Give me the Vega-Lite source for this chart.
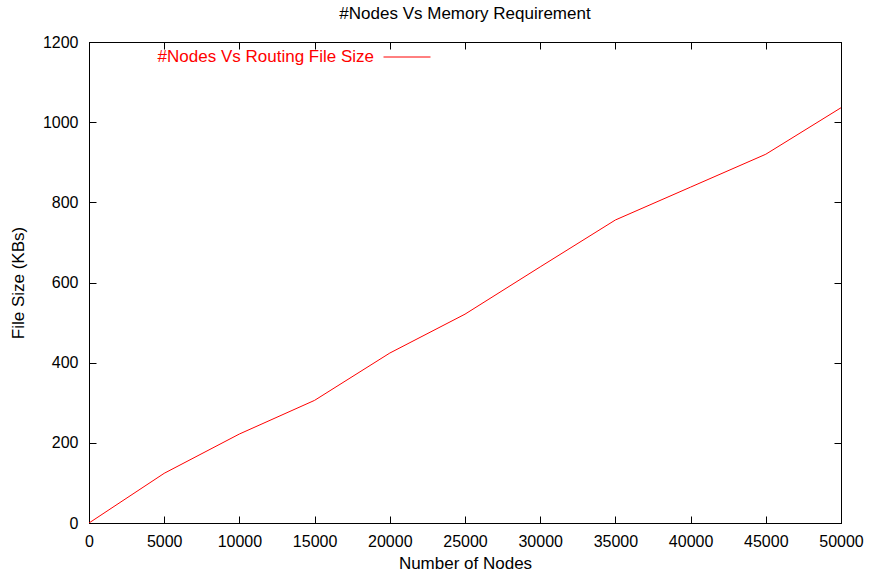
{
  "$schema": "https://vega.github.io/schema/vega-lite/v6.json",
  "width": 752,
  "height": 481,
  "autosize": {"type": "none"},
  "padding": {"left": 89, "top": 42, "right": 30, "bottom": 53},
  "background": "white",
  "config": {
    "font": "Liberation Sans",
    "view": {"stroke": "black", "strokeWidth": 1},
    "axis": {
      "domainColor": "black",
      "tickColor": "black",
      "labelColor": "black",
      "titleColor": "black",
      "labelFontSize": 16,
      "titleFontSize": 17,
      "titleFontWeight": "normal",
      "grid": false,
      "tickSize": -7,
      "tickWidth": 1,
      "domainWidth": 1
    }
  },
  "title": {
    "text": "#Nodes Vs Memory Requirement",
    "fontSize": 17,
    "fontWeight": "normal",
    "color": "black",
    "font": "Liberation Sans",
    "offset": 10
  },
  "data": {
    "values": [
      {"nodes": 0, "size": 0, "series": "#Nodes Vs Routing File Size"},
      {"nodes": 5000, "size": 124, "series": "#Nodes Vs Routing File Size"},
      {"nodes": 10000, "size": 222, "series": "#Nodes Vs Routing File Size"},
      {"nodes": 15000, "size": 306, "series": "#Nodes Vs Routing File Size"},
      {"nodes": 20000, "size": 424, "series": "#Nodes Vs Routing File Size"},
      {"nodes": 25000, "size": 521, "series": "#Nodes Vs Routing File Size"},
      {"nodes": 30000, "size": 639, "series": "#Nodes Vs Routing File Size"},
      {"nodes": 35000, "size": 756, "series": "#Nodes Vs Routing File Size"},
      {"nodes": 40000, "size": 838, "series": "#Nodes Vs Routing File Size"},
      {"nodes": 45000, "size": 920, "series": "#Nodes Vs Routing File Size"},
      {"nodes": 50000, "size": 1036, "series": "#Nodes Vs Routing File Size"}
    ]
  },
  "layer": [
    {
      "mark": {"type": "line", "strokeWidth": 1, "clip": true},
      "encoding": {
        "x": {
          "field": "nodes", "type": "quantitative",
          "scale": {"domain": [0, 50000], "nice": false, "zero": false},
          "axis": {"title": "Number of Nodes", "format": "d", "values": [0,5000,10000,15000,20000,25000,30000,35000,40000,45000,50000], "labelPadding": 17, "titlePadding": 6, "labelFlush": false}
        },
        "y": {
          "field": "size", "type": "quantitative",
          "scale": {"domain": [0, 1200], "nice": false, "zero": false},
          "axis": {"title": "File Size (KBs)", "format": "d", "values": [0,200,400,600,800,1000,1200], "labelPadding": 18, "titlePadding": 15, "labelFlush": false}
        },
        "color": {
          "field": "series", "type": "nominal",
          "scale": {"domain": ["#Nodes Vs Routing File Size"], "range": ["#ff0000"]},
          "legend": {
            "orient": "none",
            "legendX": 294,
            "legendY": -9,
            "title": null,
            "padding": 0,
            "symbolType": "stroke",
            "symbolSize": 2209,
            "symbolStrokeWidth": 1,
            "labelColor": "#ff0000",
            "labelFontSize": 17,
            "labelFont": "Liberation Sans",
            "labelAlign": "right",
            "labelOffset": -57,
            "labelLimit": 0
          }
        }
      }
    },
    {
      "mark": {"type": "line", "opacity": 0},
      "encoding": {
        "x": {
          "field": "nodes", "type": "quantitative",
          "scale": {"domain": [0, 50000], "nice": false, "zero": false},
          "axis": {"orient": "top", "title": null, "labels": false, "values": [0,5000,10000,15000,20000,25000,30000,35000,40000,45000,50000]}
        },
        "y": {
          "field": "size", "type": "quantitative",
          "scale": {"domain": [0, 1200], "nice": false, "zero": false},
          "axis": {"orient": "right", "title": null, "labels": false, "values": [0,200,400,600,800,1000,1200]}
        }
      }
    }
  ],
  "resolve": {"axis": {"x": "independent", "y": "independent"}}
}
